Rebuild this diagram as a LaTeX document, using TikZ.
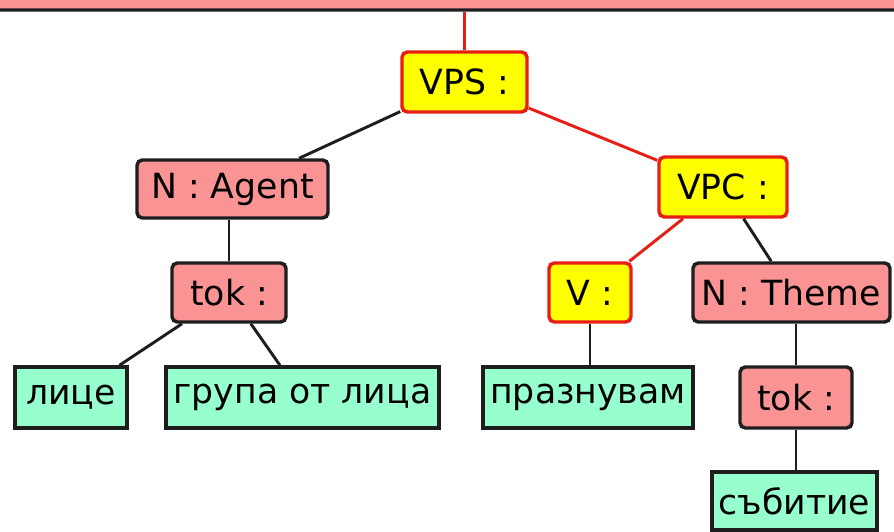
\documentclass[tikz,border=0pt]{standalone}
\usepackage{fontspec}
\setmainfont{DejaVu Sans}
\definecolor{boxpink}{RGB}{250,148,148}
\definecolor{boxyellow}{RGB}{255,255,0}
\definecolor{boxgreen}{RGB}{150,255,205}
\definecolor{edgered}{RGB}{230,30,20}
\definecolor{edgedark}{RGB}{30,30,30}
\begin{document}
\begin{tikzpicture}[x=0.75pt,y=0.75pt,yscale=-1,xscale=1,
  basebox/.style={draw,line width=2.6pt,inner sep=0pt,font=\fontsize{26}{30}\selectfont},
  pinkbox/.style={basebox,fill=boxpink,draw=edgedark,rounded corners=4pt},
  yellowbox/.style={basebox,fill=boxyellow,draw=edgered,rounded corners=4pt},
  greenbox/.style={basebox,fill=boxgreen,draw=edgedark},
  redline/.style={draw=edgered,line width=2.2pt},
  darkline/.style={draw=edgedark,line width=2.2pt}]
\clip (0,0) rectangle (894,532);

% top bar (cut off)
\node [pinkbox,minimum width=940pt,minimum height=52.5pt] (top) at (447,-25) {};

% Nodes
\node [yellowbox,minimum width=93.75pt,minimum height=45pt] (vps) at (464.5,82) {VPS :};
\node [pinkbox,minimum width=143.25pt,minimum height=43.5pt] (agent) at (232.5,189) {N : Agent};
\node [yellowbox,minimum width=96pt,minimum height=45pt] (vpc) at (723,187) {VPC :};
\node [pinkbox,minimum width=85.5pt,minimum height=44.25pt] (toka) at (229,292.5) {tok :};
\node [yellowbox,minimum width=61.5pt,minimum height=44.25pt] (verb) at (590,292.5) {V :};
\node [pinkbox,minimum width=147.75pt,minimum height=44.25pt] (theme) at (791.5,292.5) {N : Theme};
\node [greenbox,minimum width=84pt,minimum height=45.75pt] (lice) at (71,397.5) {лице};
\node [greenbox,minimum width=204.75pt,minimum height=45.75pt] (grupa) at (302.5,397.5) {група от лица};
\node [greenbox,minimum width=157.5pt,minimum height=45.75pt] (praz) at (588,397.5) {празнувам};
\node [pinkbox,minimum width=84pt,minimum height=45.75pt] (tokb) at (796,397.5) {tok :};
\node [greenbox,minimum width=123.75pt,minimum height=43.5pt] (sabitie) at (794.5,501) {събитие};

% Connectors
\draw [redline] (vps.north) -- (vps.north |- top.south);
\draw [darkline] (vps) -- (agent);
\draw [redline] (vps) -- (vpc);
\draw [darkline] (toka.north) -- (toka.north |- agent.south);
\draw [darkline] (toka) -- (lice);
\draw [darkline] (toka) -- (grupa);
\draw [redline] (vpc) -- (verb);
\draw [darkline] (vpc) -- (theme);
\draw [darkline] (verb.south) -- (verb.south |- praz.north);
\draw [darkline] (tokb.north) -- (tokb.north |- theme.south);
\draw [darkline] (tokb.south) -- (tokb.south |- sabitie.north);

\end{tikzpicture}
\end{document}
